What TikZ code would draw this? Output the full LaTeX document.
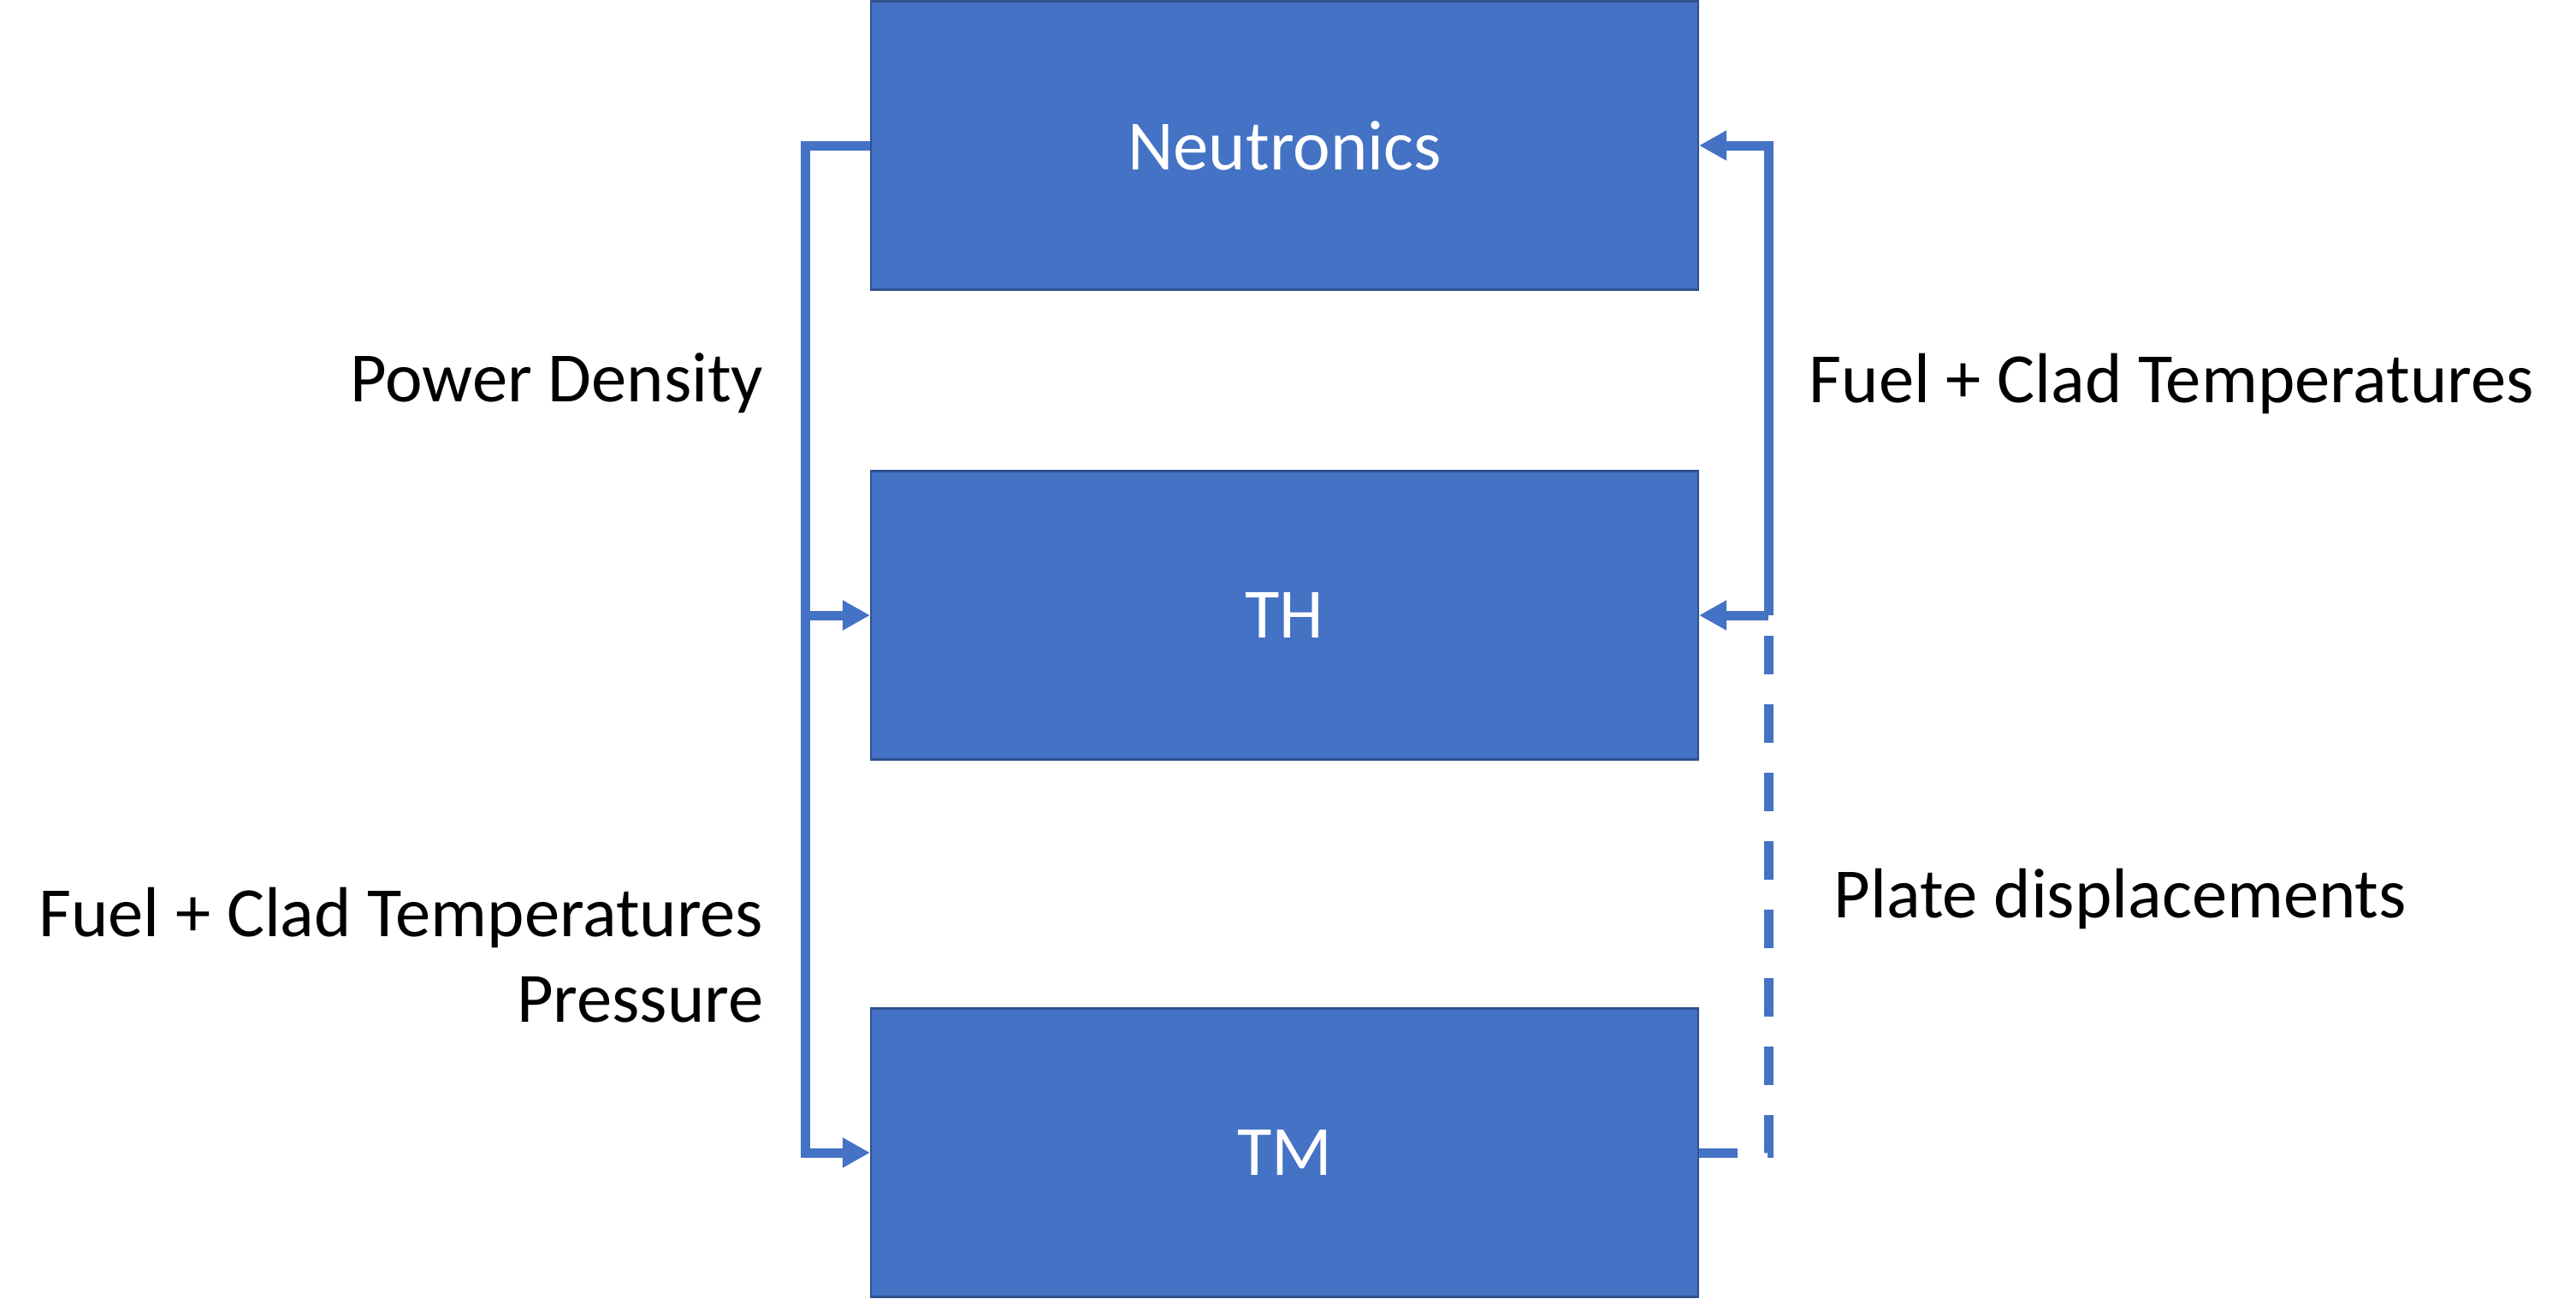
\documentclass[tikz,border=0pt]{standalone}
\usepackage{fontspec}
\setmainfont{Carlito}
\usepackage{xcolor}
\usepackage{tikz}
\usetikzlibrary{arrows.meta}
\definecolor{boxblue}{RGB}{68,114,196}
\definecolor{boxedge}{RGB}{47,82,143}
\tikzset{>=latex}
\tikzset{
    solver/.style={draw=boxedge, line width=0.6pt, fill=boxblue, text=white,
        minimum width=9.67cm, minimum height=3.37cm, font=\fontsize{23.5}{28.5}\selectfont},
    link/.style={draw=boxblue, line width=0.11cm, -{Triangle[length=0.32cm, width=0.33cm]}},
    plainlink/.style={draw=boxblue, line width=0.11cm},
    label/.style={font=\fontsize{23.5}{28.5}\selectfont, inner sep=0pt}
}

\begin{document}
\begin{tikzpicture}[]
   \useasboundingbox (0, 0) rectangle (30.11, -15.17);

   % Solvers
   \node[solver] (neu) at (15.015, -1.70) {Neutronics};
   \node[solver] (th) at (15.015, -7.19) {TH};
   \node[solver] (tm) at (15.015, -13.47) {TM};

   \coordinate (lsplit) at (9.43, -7.19);
   \coordinate (rsplit) at (20.67, -7.19);

    % Left feedback
    \draw[link] (neu.west) -- ++(-0.75, 0) |- (tm.west);
    \draw[link] (lsplit) -- (th.west);

    % Right feedback
    \draw[link] (rsplit) |- (neu.east);
    \draw[link] (rsplit) -- (th.east);
    \draw[plainlink, dash pattern=on 0.45cm off 0.35cm] (tm.east) -| (rsplit);

    % Labels
    \node[label, anchor=east] (pd) at (8.93, -4.48) {Power Density};
    \node[label, anchor=east, align=right] (fcp) at (8.93, -11.16) {Fuel + Clad Temperatures\\Pressure};
    \node[label, anchor=west] (fc) at (21.14, -4.48) {Fuel + Clad Temperatures};
    \node[label, anchor=west] (pl) at (21.43, -10.50) {Plate displacements};
\end{tikzpicture}
\end{document}
